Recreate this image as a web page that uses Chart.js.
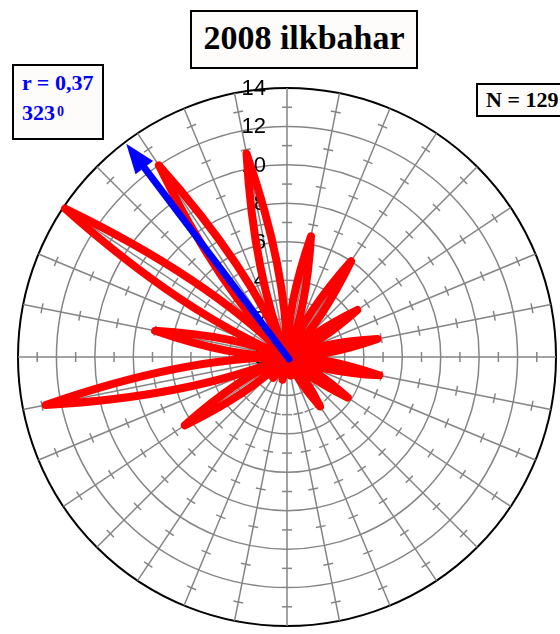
<!DOCTYPE html>
<html>
<head>
<meta charset="utf-8">
<script src="https://cdn.jsdelivr.net/npm/chart.js@4/dist/chart.umd.min.js"></script>
<style>
  html, body { margin: 0; padding: 0; background: #fff; }
  #wrap { position: relative; width: 560px; height: 634px; overflow: hidden; }
  #rose { position: absolute; left: 0; top: 0; }
  .box {
    position: absolute; box-sizing: border-box; border: 2px solid #000;
    background: #fdfcfa; white-space: nowrap;
    font-family: "Liberation Serif", "Times New Roman", serif; font-weight: bold;
  }
  #title { left: 190px; top: 10px; width: 228px; height: 59px; font-size: 34px;
           line-height: 40px; padding-top: 6px; text-align: center; color: #000; }
  #stat { left: 12px; top: 64px; width: 92px; height: 76px; font-size: 22px;
          line-height: 30px; padding: 2px 0 0 8px; color: #0000ff; }
  #stat sup { font-size: 14px; position: relative; top: -1px; vertical-align: top; margin-left: 2px; }
  #count { left: 476px; top: 83px; width: 110px; height: 34px; font-size: 22px;
           line-height: 30px; padding: 0 0 0 8px; color: #000; }
</style>
</head>
<body>
<div id="wrap">
  <canvas id="rose" width="560" height="634"></canvas>
  <div class="box" id="title">2008 ilkbahar</div>
  <div class="box" id="stat">r = 0,37<br>323<sup>0</sup></div>
  <div class="box" id="count">N = 129</div>
</div>
<script>
// Sector centres (degrees clockwise from north), 22.5° sectors
const directions = [11.25, 33.75, 56.25, 78.75, 101.25, 123.75, 146.25, 168.75,
                    191.25, 213.75, 236.25, 258.75, 281.25, 303.75, 326.25, 348.75];
// Share of observations in each sector (%)
const percentages = [6.4, 6.0, 4.4, 4.8, 4.9, 3.8, 3.1, 1.0,
                     1.2, 1.3, 6.4, 12.8, 7.0, 13.9, 12.0, 10.8];
// Radial axis
const radiusTicks = [0, 2, 4, 6, 8, 10, 12, 14];
const minorTicks = [1, 3, 5, 7, 9, 11, 13];
// Mean resultant vector
const meanLength = 0.37;
const meanDirection = 323;
const arrowReach = 13.9;

// Spokes every 11.25°: sector boundaries (value 0) alternate with sector centres
const labels = [];
const values = [];
directions.forEach((d, k) => {
  labels.push(String(d - 11.25));
  values.push(0);
  labels.push(String(d));
  values.push(percentages[k]);
});

const GRID = '#858585';
const PETAL_BULGE = 0.42;   // control point distance on the neighbouring spoke, as a share of the petal length

const roseDecor = {
  id: 'roseDecor',
  beforeDatasetsDraw(chart) {
    const s = chart.scales.r;
    const ctx = chart.ctx;
    ctx.save();
    // small cross ticks at odd radii along every spoke
    ctx.strokeStyle = GRID;
    ctx.lineWidth = 1.5;
    for (let i = 0; i < chart.data.labels.length; i++) {
      for (const v of minorTicks) {
        const p = s.getPointPosition(i, s.getDistanceFromCenterForValue(v));
        const ux = Math.cos(p.angle), uy = Math.sin(p.angle);
        ctx.beginPath();
        ctx.moveTo(p.x - uy * 5, p.y + ux * 5);
        ctx.lineTo(p.x + uy * 5, p.y - ux * 5);
        ctx.stroke();
      }
    }
    // radius labels
    ctx.fillStyle = '#000';
    ctx.font = '22px "Liberation Sans", Arial, sans-serif';
    ctx.textAlign = 'right';
    ctx.textBaseline = 'middle';
    radiusTicks.forEach(v => {
      const d = s.getDistanceFromCenterForValue(v);
      ctx.fillText(String(v), s.xCenter - 21, s.yCenter - d + 1);
    });
    ctx.restore();
  },
  afterDatasetsDraw(chart) {
    const s = chart.scales.r;
    const ctx = chart.ctx;
    const meta = chart.getDatasetMeta(0);
    const data = chart.data.datasets[0].data;
    const n = data.length;
    ctx.save();
    // petals: a leaf from the centre out to each sector's point and back
    ctx.strokeStyle = '#ff0000';
    ctx.lineWidth = 8;
    ctx.lineJoin = 'round';
    ctx.lineCap = 'round';
    meta.data.forEach((pt, i) => {
      if (!data[i]) return;
      const d = s.getDistanceFromCenterForValue(data[i]) * PETAL_BULGE;
      const before = s.getPointPosition((i - 1 + n) % n, d);
      const after = s.getPointPosition((i + 1) % n, d);
      ctx.beginPath();
      ctx.moveTo(s.xCenter, s.yCenter);
      ctx.quadraticCurveTo(before.x, before.y, pt.x, pt.y);
      ctx.quadraticCurveTo(after.x, after.y, s.xCenter, s.yCenter);
      ctx.closePath();
      ctx.stroke();
    });
    // mean direction arrow
    const a = meanDirection * Math.PI / 180;
    const dx = Math.sin(a), dy = -Math.cos(a);
    const len = s.getDistanceFromCenterForValue(arrowReach);
    const head = 30, half = 11;
    const tipX = s.xCenter + dx * len, tipY = s.yCenter + dy * len;
    const baseX = tipX - dx * head, baseY = tipY - dy * head;
    ctx.strokeStyle = '#0000ff';
    ctx.fillStyle = '#0000ff';
    ctx.lineWidth = 7;
    ctx.beginPath();
    ctx.moveTo(s.xCenter + 2, s.yCenter + 2);
    ctx.lineTo(baseX + dx * 2, baseY + dy * 2);
    ctx.stroke();
    ctx.beginPath();
    ctx.moveTo(tipX, tipY);
    ctx.lineTo(baseX - dy * half, baseY + dx * half);
    ctx.lineTo(baseX + dy * half, baseY - dx * half);
    ctx.closePath();
    ctx.fill();
    ctx.restore();
  }
};

new Chart(document.getElementById('rose'), {
  type: 'radar',
  data: {
    labels: labels,
    datasets: [{
      data: values,
      showLine: false,
      pointRadius: 0,
      pointHoverRadius: 0,
      fill: false
    }]
  },
  options: {
    responsive: false,
    animation: false,
    events: [],
    layout: { padding: { left: 18, top: 88, right: 4, bottom: 8 } },
    plugins: { legend: { display: false }, tooltip: { enabled: false } },
    scales: {
      r: {
        min: 0,
        max: 14,
        ticks: { display: false, stepSize: 2 },
        pointLabels: { display: false },
        grid: {
          circular: true,
          color: ctx => (ctx.tick && ctx.tick.value === 14) ? '#000' : GRID,
          lineWidth: ctx => (ctx.tick && ctx.tick.value === 14) ? 2 : 1.5
        },
        angleLines: { display: true, color: GRID, lineWidth: 1.5 }
      }
    }
  },
  plugins: [roseDecor]
});
</script>
</body>
</html>
